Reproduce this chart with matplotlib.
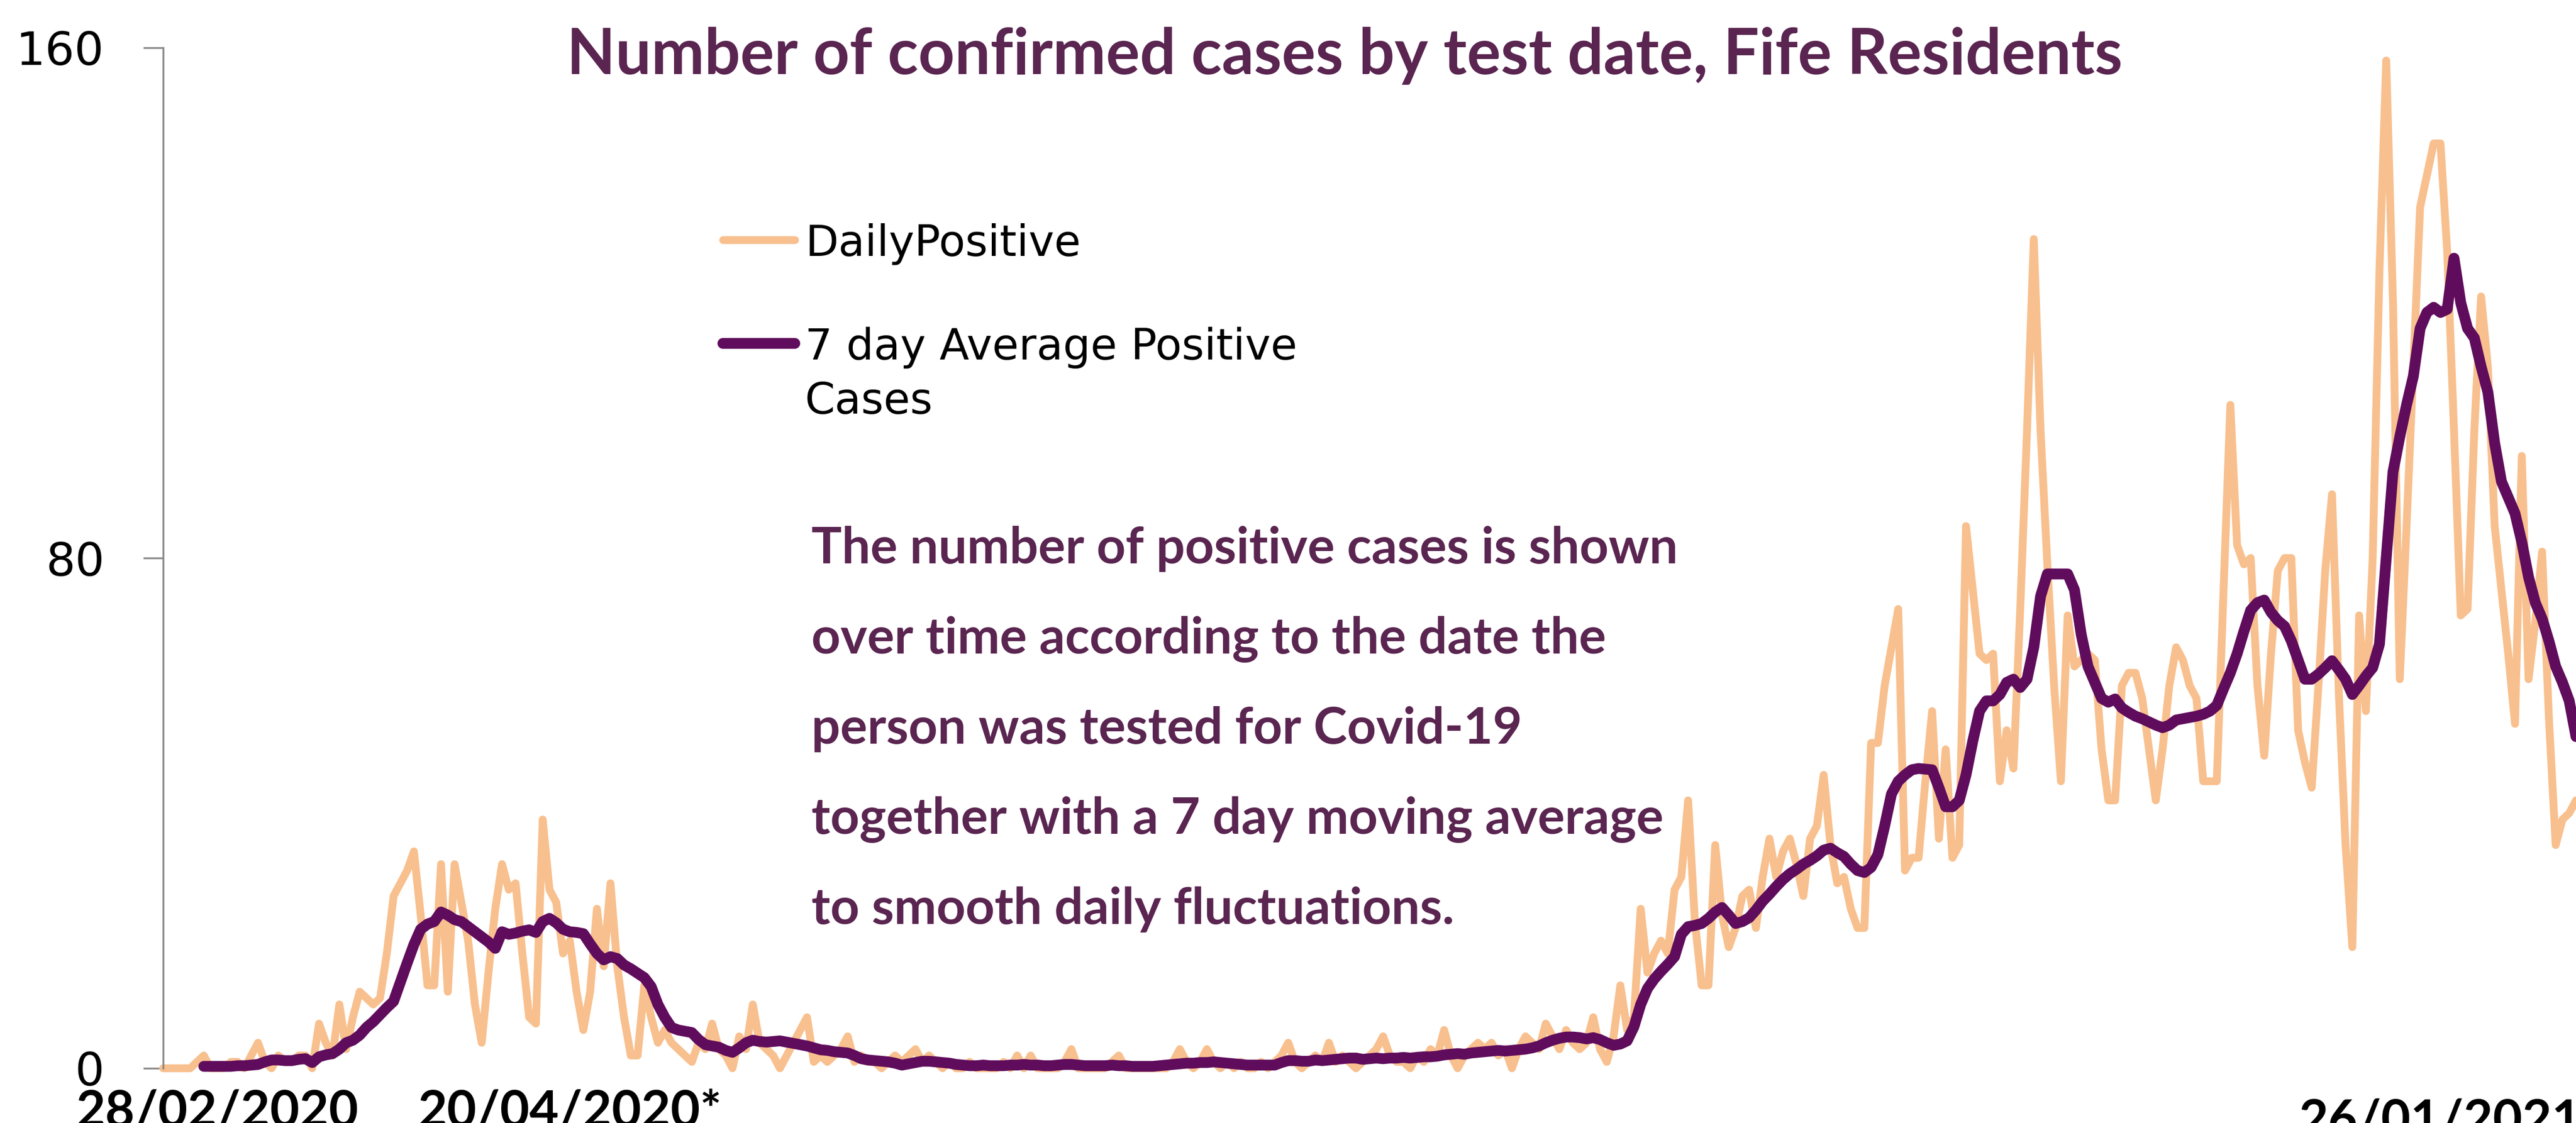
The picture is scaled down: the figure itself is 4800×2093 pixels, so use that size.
import numpy as np
import pandas as pd
import matplotlib
matplotlib.use("Agg")
import matplotlib.pyplot as plt
from matplotlib.lines import Line2D

# --- DATA ---
start_date = "2020-02-20"

daily_positive = [
    0, 0, 0, 0, 0, 1, 2, 0, 0, 0,
    1, 1, 0, 2, 4, 1, 0, 2, 1, 1,
    2, 2, 0, 7, 4, 2, 10, 3, 8, 12,
    11, 10, 11, 18, 27, 29, 31, 34, 24, 13,
    13, 32, 12, 32, 26, 20, 10, 4, 15, 25,
    32, 28, 29, 18, 8, 7, 39, 28, 26, 18,
    20, 12, 6, 12, 25, 16, 29, 16, 8, 2,
    2, 13, 8, 4, 6, 4, 3, 2, 1, 4,
    3, 7, 3, 2, 0, 5, 3, 10, 4, 3,
    2, 0, 2, 4, 6, 8, 1, 2, 1, 2,
    3, 5, 1, 2, 1, 1, 0, 1, 2, 1,
    2, 3, 1, 2, 1, 0, 1, 0, 0, 1,
    0, 0, 0, 0, 1, 0, 2, 0, 2, 0,
    0, 0, 0, 1, 3, 0, 0, 0, 0, 0,
    1, 2, 0, 0, 0, 0, 0, 0, 0, 1,
    3, 1, 0, 1, 3, 1, 0, 1, 0, 1,
    0, 0, 1, 0, 1, 2, 4, 1, 0, 1,
    2, 1, 4, 1, 2, 1, 0, 1, 2, 3,
    5, 2, 1, 1, 0, 2, 1, 3, 2, 6,
    2, 0, 2, 3, 4, 3, 4, 2, 3, 0,
    3, 5, 4, 3, 7, 5, 3, 6, 4, 3,
    4, 8, 3, 1, 5, 13, 6, 8, 25, 15,
    18, 20, 18, 28, 30, 42, 23, 13, 13, 35,
    24, 19, 22, 27, 28, 22, 30, 36, 30, 34,
    36, 32, 27, 36, 38, 46, 35, 29, 30, 25,
    22, 22, 51, 51, 60, 66, 72, 31, 33, 33,
    45, 56, 36, 50, 33, 35, 85, 75, 65, 64,
    65, 45, 53, 47, 72, 100, 130, 100, 79, 60,
    45, 71, 63, 64, 65, 64, 50, 42, 42, 60,
    62, 62, 58, 50, 42, 50, 60, 66, 64, 60,
    58, 45, 45, 45, 75, 104, 82, 79, 80, 60,
    49, 65, 78, 80, 80, 53, 48, 44, 60, 78,
    90, 59, 35, 19, 71, 56, 80, 125, 158, 120,
    61, 85, 110, 135, 140, 145, 145, 128, 100, 71,
    72, 100, 121, 110, 85, 75, 65, 54, 96, 61,
    70, 81, 55, 35, 39, 40, 42,
]

nan = np.nan
avg_7day = [
    nan, nan, nan, nan, nan, nan, 0.3, 0.3, 0.3, 0.3,
    0.3, 0.4, 0.4, 0.5, 0.6, 1.0, 1.3, 1.3, 1.2, 1.2,
    1.4, 1.5, 0.9, 1.8, 2.1, 2.3, 3.0, 4.0, 4.4, 5.2,
    6.4, 7.3, 8.4, 9.5, 10.5, 13.5, 16.5, 19.4, 21.8, 22.6,
    23.0, 24.5, 24.0, 23.3, 23.0, 22.2, 21.4, 20.6, 19.8, 18.8,
    21.4, 21.0, 21.2, 21.5, 21.7, 21.3, 23.0, 23.5, 22.8, 21.8,
    21.4, 21.3, 21.1, 19.5, 18.0, 17.0, 17.5, 17.2, 16.2, 15.6,
    14.9, 14.2, 12.8, 10.0, 8.0, 6.4, 6.0, 5.8, 5.6, 4.5,
    3.7, 3.5, 3.3, 2.8, 2.5, 3.2, 4.0, 4.4, 4.2, 4.1,
    4.2, 4.3, 4.1, 3.9, 3.7, 3.5, 3.2, 2.9, 2.8, 2.6,
    2.5, 2.4, 2.0, 1.5, 1.3, 1.2, 1.1, 1.0, 0.8, 0.5,
    0.7, 0.9, 1.1, 1.1, 1.0, 0.9, 0.8, 0.6, 0.5, 0.4,
    0.4, 0.5, 0.4, 0.4, 0.4, 0.5, 0.5, 0.6, 0.5, 0.5,
    0.4, 0.4, 0.5, 0.6, 0.6, 0.5, 0.4, 0.4, 0.4, 0.4,
    0.5, 0.4, 0.4, 0.3, 0.3, 0.3, 0.3, 0.4, 0.5, 0.6,
    0.7, 0.8, 0.8, 0.9, 0.9, 1.0, 0.9, 0.8, 0.7, 0.6,
    0.5, 0.5, 0.5, 0.5, 0.5, 0.9, 1.2, 1.2, 1.1, 1.1,
    1.3, 1.2, 1.3, 1.4, 1.5, 1.6, 1.6, 1.4, 1.5, 1.6,
    1.5, 1.6, 1.6, 1.7, 1.6, 1.7, 1.8, 1.8, 1.9, 2.1,
    2.2, 2.3, 2.2, 2.4, 2.5, 2.6, 2.7, 2.8, 2.7, 2.8,
    2.9, 3.0, 3.2, 3.5, 4.0, 4.4, 4.7, 4.9, 4.9, 4.8,
    4.6, 4.8, 4.5, 4.0, 3.6, 3.8, 4.3, 6.5, 10.0, 12.5,
    14.0, 15.2, 16.3, 17.5, 21.0, 22.2, 22.4, 22.7, 23.5, 24.5,
    25.2, 24.0, 22.7, 23.0, 23.6, 24.8, 26.2, 27.3, 28.5, 29.6,
    30.5, 31.2, 32.0, 32.6, 33.3, 34.2, 34.5, 33.8, 33.2, 32.0,
    31.0, 30.7, 31.5, 33.5, 38.0, 43.0, 45.0, 46.0, 46.8, 47.0,
    46.9, 46.8, 44.0, 41.0, 41.0, 42.0, 46.0, 51.3, 56.0, 57.6,
    57.6, 58.6, 60.5, 61.0, 59.7, 61.0, 66.0, 74.0, 77.5, 77.5,
    77.5, 77.5, 75.0, 68.0, 63.0, 60.5, 58.0, 57.4, 57.9, 56.5,
    55.8, 55.2, 54.8, 54.3, 53.8, 53.4, 53.8, 54.6, 54.8, 55.0,
    55.2, 55.5, 56.0, 56.9, 59.5, 62.0, 65.0, 68.5, 71.8, 73.0,
    73.4, 71.5, 70.2, 69.3, 67.0, 64.0, 61.0, 61.0, 61.8, 62.8,
    63.9, 62.5, 61.0, 58.6, 60.0, 61.5, 62.8, 66.5, 80.0, 93.5,
    99.0, 104.0, 108.5, 116.0, 118.5, 119.3, 118.5, 119.0, 127.0, 120.0,
    116.0, 114.5, 110.0, 106.0, 98.0, 92.0, 89.5, 87.0, 82.5, 77.0,
    73.0, 70.5, 67.0, 63.0, 60.5, 57.6, 52.0,
]

tick_dates = ["2020-02-28", "2020-04-20"]
tick_labels = ["28/02/2020", "20/04/2020*"]
last_label_date = "2021-01-26"
last_label = "26/01/2021"

y_ticks = [0, 80, 160]

title = "Number of confirmed cases by test date, Fife Residents"
note_lines = [
    "The number of positive cases is shown",
    "over time according to the date the",
    "person was tested for Covid-19",
    "together with a 7 day moving average",
    "to smooth daily fluctuations.",
]

# --- STYLE ---
ORANGE = "#F8C08E"
PURPLE = "#600C5C"
TEXT_PURPLE = "#5A2550"
AXIS_GREY = "#8A8A8A"
LW_DAILY = 10.5
LW_AVG = 14.5

dates = pd.date_range(start_date, periods=len(daily_positive), freq="D")

W, H = 4800, 2093
fig = plt.figure(figsize=(W / 100, H / 100), dpi=100)
ax = fig.add_axes([304 / W, 102 / H, 1 - 304 / W, (1991 - 89) / H])

ax.plot(dates, daily_positive, color=ORANGE, lw=LW_DAILY, solid_joinstyle="round",
        solid_capstyle="round", clip_on=False, zorder=2)
ax.plot(dates, avg_7day, color=PURPLE, lw=LW_AVG, solid_joinstyle="round",
        solid_capstyle="round", clip_on=False, zorder=3)

ax.set_xlim(dates[0], dates[-1])
ax.set_ylim(0, 160)

for side in ["top", "right", "bottom"]:
    ax.spines[side].set_visible(False)
ax.spines["left"].set_color(AXIS_GREY)
ax.spines["left"].set_linewidth(2.5)

ax.set_yticks(y_ticks)
ax.set_yticklabels([str(v) for v in y_ticks], family="DejaVu Sans")
ax.tick_params(axis="y", length=27, width=2.5, color=AXIS_GREY,
               labelsize=62, pad=52, labelcolor="black")

ax.set_xticks(pd.to_datetime(tick_dates))
ax.set_xticklabels(tick_labels, family="Lato", fontweight="bold")
ax.tick_params(axis="x", length=0, labelsize=68, pad=28, labelcolor="black")

# the last date label sits a little lower and to the left in the original
ax.annotate(last_label, xy=(pd.Timestamp(last_label_date), 0),
            xycoords=("data", "axes fraction"), xytext=(-46, -40),
            textcoords="offset points", ha="center", va="top",
            fontsize=68, fontweight="bold", family="Lato",
            annotation_clip=False)

# title
fig.text(1056 / W, 1 - 138 / H, title, ha="left", va="baseline",
         fontsize=85, fontweight="bold", family="Lato", color=TEXT_PURPLE)

# legend, drawn by hand to keep the wide spacing of the original
fig.add_artist(Line2D([1347 / W, 1481 / W], [1 - 447 / H] * 2, color=ORANGE,
                      lw=LW_DAILY, solid_capstyle="round"))
fig.add_artist(Line2D([1347 / W, 1481 / W], [1 - 640 / H] * 2, color=PURPLE,
                      lw=LW_AVG, solid_capstyle="round"))
legend_font = dict(ha="left", va="baseline", fontsize=58,
                   family="DejaVu Sans", color="black")
fig.text(1500 / W, 1 - 477 / H, "DailyPositive", **legend_font)
fig.text(1500 / W, 1 - 670 / H, "7 day Average Positive", **legend_font)
fig.text(1500 / W, 1 - 771 / H, "Cases", **legend_font)

# explanatory note
for i, line in enumerate(note_lines):
    fig.text(1512 / W, 1 - (1050 + 168 * i) / H, line, ha="left", va="baseline",
             fontsize=68, fontweight="bold", family="Lato", color=TEXT_PURPLE)

fig.savefig("out.png", dpi=100, facecolor="white")
